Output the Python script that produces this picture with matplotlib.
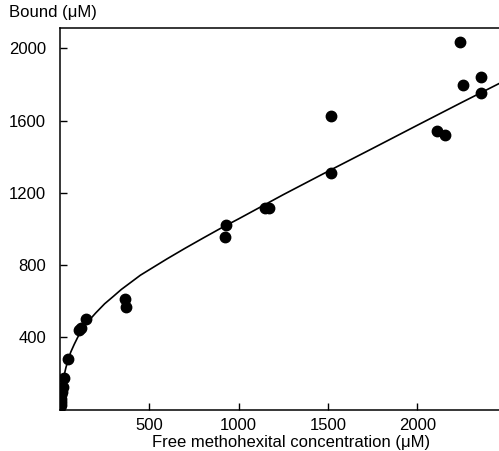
import numpy as np
import matplotlib
matplotlib.use("Agg")
import matplotlib.pyplot as plt

plt.rcParams['font.family'] = ['Liberation Sans', 'DejaVu Sans']

# Measured binding data (free vs bound methohexital, uM)
free_conc = [2242, 2358, 2259, 2358, 2112, 2158, 1515, 1518, 1150, 1170,
             927, 923, 365, 367, 147, 105, 119, 44, 22,
             14, 11, 8, 6, 4, 3, 2]
bound_conc = [2035, 1843, 1798, 1751, 1544, 1520, 1628, 1312, 1118, 1118,
              1021, 954, 611, 566, 500, 441, 453, 280, 173,
              125, 100, 80, 60, 42, 25, 12]

# Fitted curve
curve_free = [0, 4, 8, 14, 22, 33, 44, 60, 80, 100, 125, 150, 200, 250,
              300, 343, 400, 450, 529, 600, 700, 800, 900, 1000, 1250,
              1500, 1750, 2000, 2250, 2458]
curve_bound = [0, 55, 100, 145, 185, 232, 270, 318, 362, 402, 443, 480,
               535, 586, 628, 665, 707, 744, 792, 835, 893, 949, 1004,
               1056, 1190, 1319, 1446, 1574, 1701, 1805]

x_ticks = [500, 1000, 1500, 2000]
y_ticks = [400, 800, 1200, 1600, 2000]

fig = plt.figure(figsize=(4.99, 4.51), dpi=100)
ax = fig.add_axes([60 / 499, 41.4 / 451, 439 / 499, 382 / 451])

ax.plot(curve_free, curve_bound, color='black', lw=1.2, zorder=2)
ax.plot(free_conc, bound_conc, 'o', color='black', ms=7.5, zorder=3)

ax.set_xlim(0, 2458)
ax.set_ylim(0, 2115)
ax.set_xticks(x_ticks)
ax.set_yticks(y_ticks)
ax.tick_params(direction='in', length=5, width=1, labelsize=12, colors='black')
ax.tick_params(axis='x', pad=6)
ax.tick_params(axis='y', pad=10)

ax.spines['right'].set_visible(False)
for s in ['left', 'bottom', 'top']:
    ax.spines[s].set_linewidth(1.1)

fig.text(291 / 499, 1 - 442 / 451, 'Free methohexital concentration (\u03bcM)',
         ha='center', va='center', fontsize=12)
fig.text(9 / 499, 1 - 13 / 451, 'Bound (\u03bcM)', ha='left', va='center',
         fontsize=12)

fig.savefig('out.png', dpi=100)
